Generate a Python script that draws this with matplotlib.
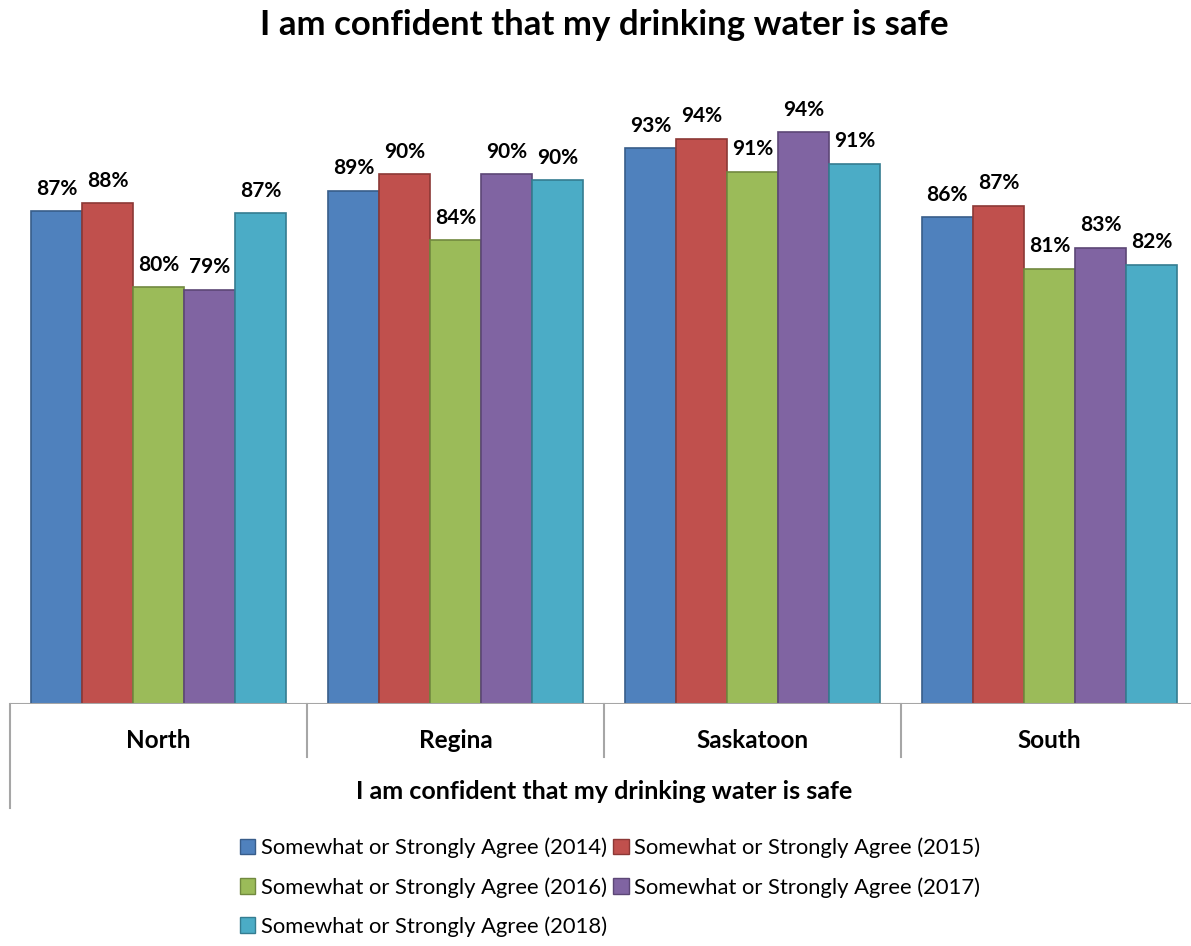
import matplotlib.pyplot as plt
import numpy as np
from matplotlib.patches import Patch

plt.rcParams['font.family'] = ['Lato', 'DejaVu Sans']

# Data
regions = ['North', 'Regina', 'Saskatoon', 'South']
series = ['Somewhat or Strongly Agree (2014)', 'Somewhat or Strongly Agree (2015)',
          'Somewhat or Strongly Agree (2016)', 'Somewhat or Strongly Agree (2017)',
          'Somewhat or Strongly Agree (2018)']
v2014 = [86.95, 88.86, 92.95, 86.38]
v2015 = [87.71, 90.45, 93.81, 87.43]
v2016 = [79.71, 84.19, 90.67, 81.45]
v2017 = [79.45, 90.45, 94.45, 83.43]
v2018 = [86.76, 89.90, 91.45, 81.81]
values = [v2014, v2015, v2016, v2017, v2018]

colors = ['#4F81BD', '#C0504D', '#9BBB59', '#8064A2', '#4BACC6']
edges = ['#385D8A', '#8C3836', '#71893F', '#5C4776', '#357D91']

fig = plt.figure(figsize=(11.91, 9.46), dpi=100)
ax = fig.add_axes([10 / 1191, 1 - 704 / 946, 1188 / 1191, 630 / 946])

x = np.arange(len(regions))
w = 0.172
handles = []
for j, vals in enumerate(values):
    bars = ax.bar(x + (j - 2) * w, vals, width=w, bottom=0, color=colors[j],
                  edgecolor=edges[j], linewidth=1.2, zorder=2)
    handles.append(Patch(facecolor=colors[j], edgecolor=edges[j], label=series[j]))
    for b, v in zip(bars, vals):
        ax.annotate(f'{round(v)}%', (b.get_x() + b.get_width() / 2, v),
                    xytext=(0, 9), textcoords='offset points', ha='center',
                    va='bottom', fontsize=15, fontweight='bold')

ax.set_xlim(-0.5, 3.5)
ax.set_ylim(40, 100)
for s in ax.spines.values():
    s.set_visible(False)
ax.set_xticks([])
ax.set_yticks([])

# multi-level category axis
grey = '#A6A6A6'
ax.axhline(40, color=grey, linewidth=1.5, zorder=3)
tr = ax.get_xaxis_transform()
for xd in [0.5, 1.5, 2.5]:
    ax.plot([xd, xd], [0, -53 / 630], color=grey, linewidth=1.5, transform=tr, clip_on=False)
ax.plot([-0.5, -0.5], [0, -104 / 630], color=grey, linewidth=1.5, transform=tr, clip_on=False)
for i, r in enumerate(regions):
    ax.text(i, -36 / 630, r, transform=tr, ha='center', va='center',
            fontsize=17.5, fontweight='bold')
ax.text(1.5, -87 / 630, 'I am confident that my drinking water is safe', transform=tr,
        ha='center', va='center', fontsize=18, fontweight='bold')

fig.text(604 / 1191, 1 - 25 / 946, 'I am confident that my drinking water is safe',
         ha='center', va='center', fontsize=25, fontweight='bold')

order = [0, 2, 4, 1, 3]
fig.legend([handles[i] for i in order], [series[i] for i in order], ncol=2,
           loc='upper left', bbox_to_anchor=(220 / 1191, 1 - 818 / 946),
           frameon=False, fontsize=15.8, handlelength=0.7, handleheight=0.7,
           handletextpad=0.25, columnspacing=0.3, labelspacing=0.85)

fig.savefig('out.png', dpi=100)
